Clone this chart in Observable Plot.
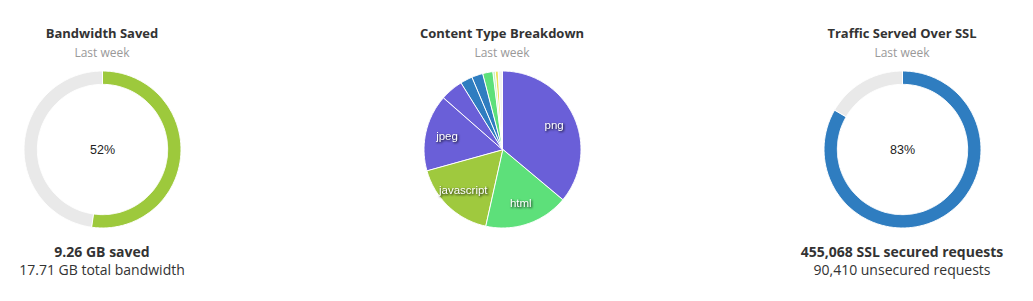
<!DOCTYPE html>
<html>
<head>
<meta charset="utf-8">
<script src="https://cdn.jsdelivr.net/npm/d3@7"></script>
<script src="https://cdn.jsdelivr.net/npm/@observablehq/plot@0.6"></script>
<style>
  html, body { margin: 0; padding: 0; background: #fff; }
  body { width: 1033px; height: 301px; position: relative; overflow: hidden; font-family: "Open Sans", sans-serif; }
  .panel { position: absolute; top: 0; width: 300px; text-align: center; }
  .title { position: absolute; left: 0; width: 100%; top: 24px; font-size: 13px; font-weight: 700; color: #333; }
  .sub { position: absolute; left: 0; width: 100%; top: 44px; font-size: 12px; color: #999; }
  .chart { position: absolute; left: 65px; top: 64px; width: 170px; height: 170px; }
  .foot1 { position: absolute; left: 0; width: 100%; top: 242px; font-size: 14px; font-weight: 700; color: #333; }
  .foot2 { position: absolute; left: 0; width: 100%; top: 260px; font-size: 14px; color: #333; }
  #pie g[aria-label="text"] text { filter: drop-shadow(1px 1px 1px rgba(0,0,0,0.85)); }
</style>
</head>
<body>
<div class="panel" id="p1" style="left:-48px">
  <div class="title">Bandwidth Saved</div>
  <div class="sub">Last week</div>
  <div class="chart" id="bw"></div>
  <div class="foot1">9.26 GB saved</div>
  <div class="foot2">17.71 GB total bandwidth</div>
</div>
<div class="panel" id="p2" style="left:352px">
  <div class="title">Content Type Breakdown</div>
  <div class="sub">Last week</div>
  <div class="chart" id="pie"></div>
</div>
<div class="panel" id="p3" style="left:752px">
  <div class="title">Traffic Served Over SSL</div>
  <div class="sub">Last week</div>
  <div class="chart" id="ssl"></div>
  <div class="foot1">455,068 SSL secured requests</div>
  <div class="foot2">90,410 unsecured requests</div>
</div>
<script>
// ---- data ----
const bwNames = ["saved", "not saved"];
const bwValues = [9.26, 8.45];
const bwColors = ["#9dc93c", "#e9e9e9"];

const sslNames = ["secured", "unsecured"];
const sslValues = [455068, 90410];
const sslColors = ["#2f7dc0", "#e9e9e9"];

const ctNames = ["png", "html", "javascript", "jpeg", "gif", "css", "json", "svg+xml", "plain", "x-icon", "other"];
const ctValues = [36.1, 17.4, 17.2, 15.8, 4.7, 2.5, 2.3, 2.1, 0.5, 0.6, 0.8];
const ctColors = ["#6a5fd8", "#5de07a", "#9fc93e", "#6a5fd8", "#6a5fd8", "#2f7dc0", "#2f7dc0", "#5de07a", "#c8f0c0", "#ede35b", "#f4f4f4"];
const ctShown = ["png", "html", "javascript", "jpeg"];

// ---- geometry helpers (derived from the values) ----
function slices(names, values, colors, inner, outer) {
  const total = d3.sum(values);
  const rows = [];
  let acc = 0;
  names.forEach((name, i) => {
    const a0 = acc / total * 2 * Math.PI;
    acc += values[i];
    const a1 = acc / total * 2 * Math.PI;
    const n = Math.max(2, Math.ceil((a1 - a0) / (Math.PI / 180)));
    const outerPts = d3.range(n + 1).map(k => a0 + (a1 - a0) * k / n);
    outerPts.forEach(a => rows.push({name, color: colors[i], x: outer * Math.sin(a), y: outer * Math.cos(a)}));
    if (inner > 0) {
      outerPts.slice().reverse().forEach(a => rows.push({name, color: colors[i], x: inner * Math.sin(a), y: inner * Math.cos(a)}));
    } else {
      rows.push({name, color: colors[i], x: 0, y: 0});
    }
  });
  return rows;
}
function labels(names, values, show, r) {
  const total = d3.sum(values);
  let acc = 0;
  const out = [];
  names.forEach((name, i) => {
    const mid = (acc + values[i] / 2) / total * 2 * Math.PI;
    acc += values[i];
    if (show.includes(name)) out.push({name, x: r * Math.sin(mid), y: r * Math.cos(mid)});
  });
  return out;
}

const base = {
  width: 170, height: 170, margin: 0,
  x: {domain: [-1.09, 1.09], axis: null},
  y: {domain: [-1.09, 1.09], axis: null},
  color: {type: "identity"},
  style: {background: "transparent", overflow: "visible"}
};
const R = 78.5 / 78;

function donut(id, names, values, colors) {
  const pct = d3.format(".0%")(values[0] / d3.sum(values));
  const chart = Plot.plot({
    ...base,
    marks: [
      Plot.line(slices(names, values, colors, 0.83 * R, R), {
        x: "x", y: "y", z: "name", fill: "color", stroke: "#fff", strokeWidth: 1, curve: "linear-closed"
      }),
      Plot.text([pct], {x: () => 0, y: () => 0, text: d => d, fontSize: 12.5, fill: "#222",
        fontFamily: "Liberation Sans, Arial, sans-serif"})
    ]
  });
  document.getElementById(id).appendChild(chart);
}

donut("bw", bwNames, bwValues, bwColors);
donut("ssl", sslNames, sslValues, sslColors);

const pie = Plot.plot({
  ...base,
  marks: [
    Plot.line(slices(ctNames, ctValues, ctColors, 0, R), {
      x: "x", y: "y", z: "name", fill: "color", stroke: "#fff", strokeWidth: 1, curve: "linear-closed"
    }),
    Plot.text(labels(ctNames, ctValues, ctShown, 0.73), {
      x: "x", y: "y", text: "name", fill: "#fff", fontSize: 11.5,
      fontFamily: "Liberation Sans, Arial, sans-serif"
    })
  ]
});
document.getElementById("pie").appendChild(pie);
</script>
</body>
</html>
